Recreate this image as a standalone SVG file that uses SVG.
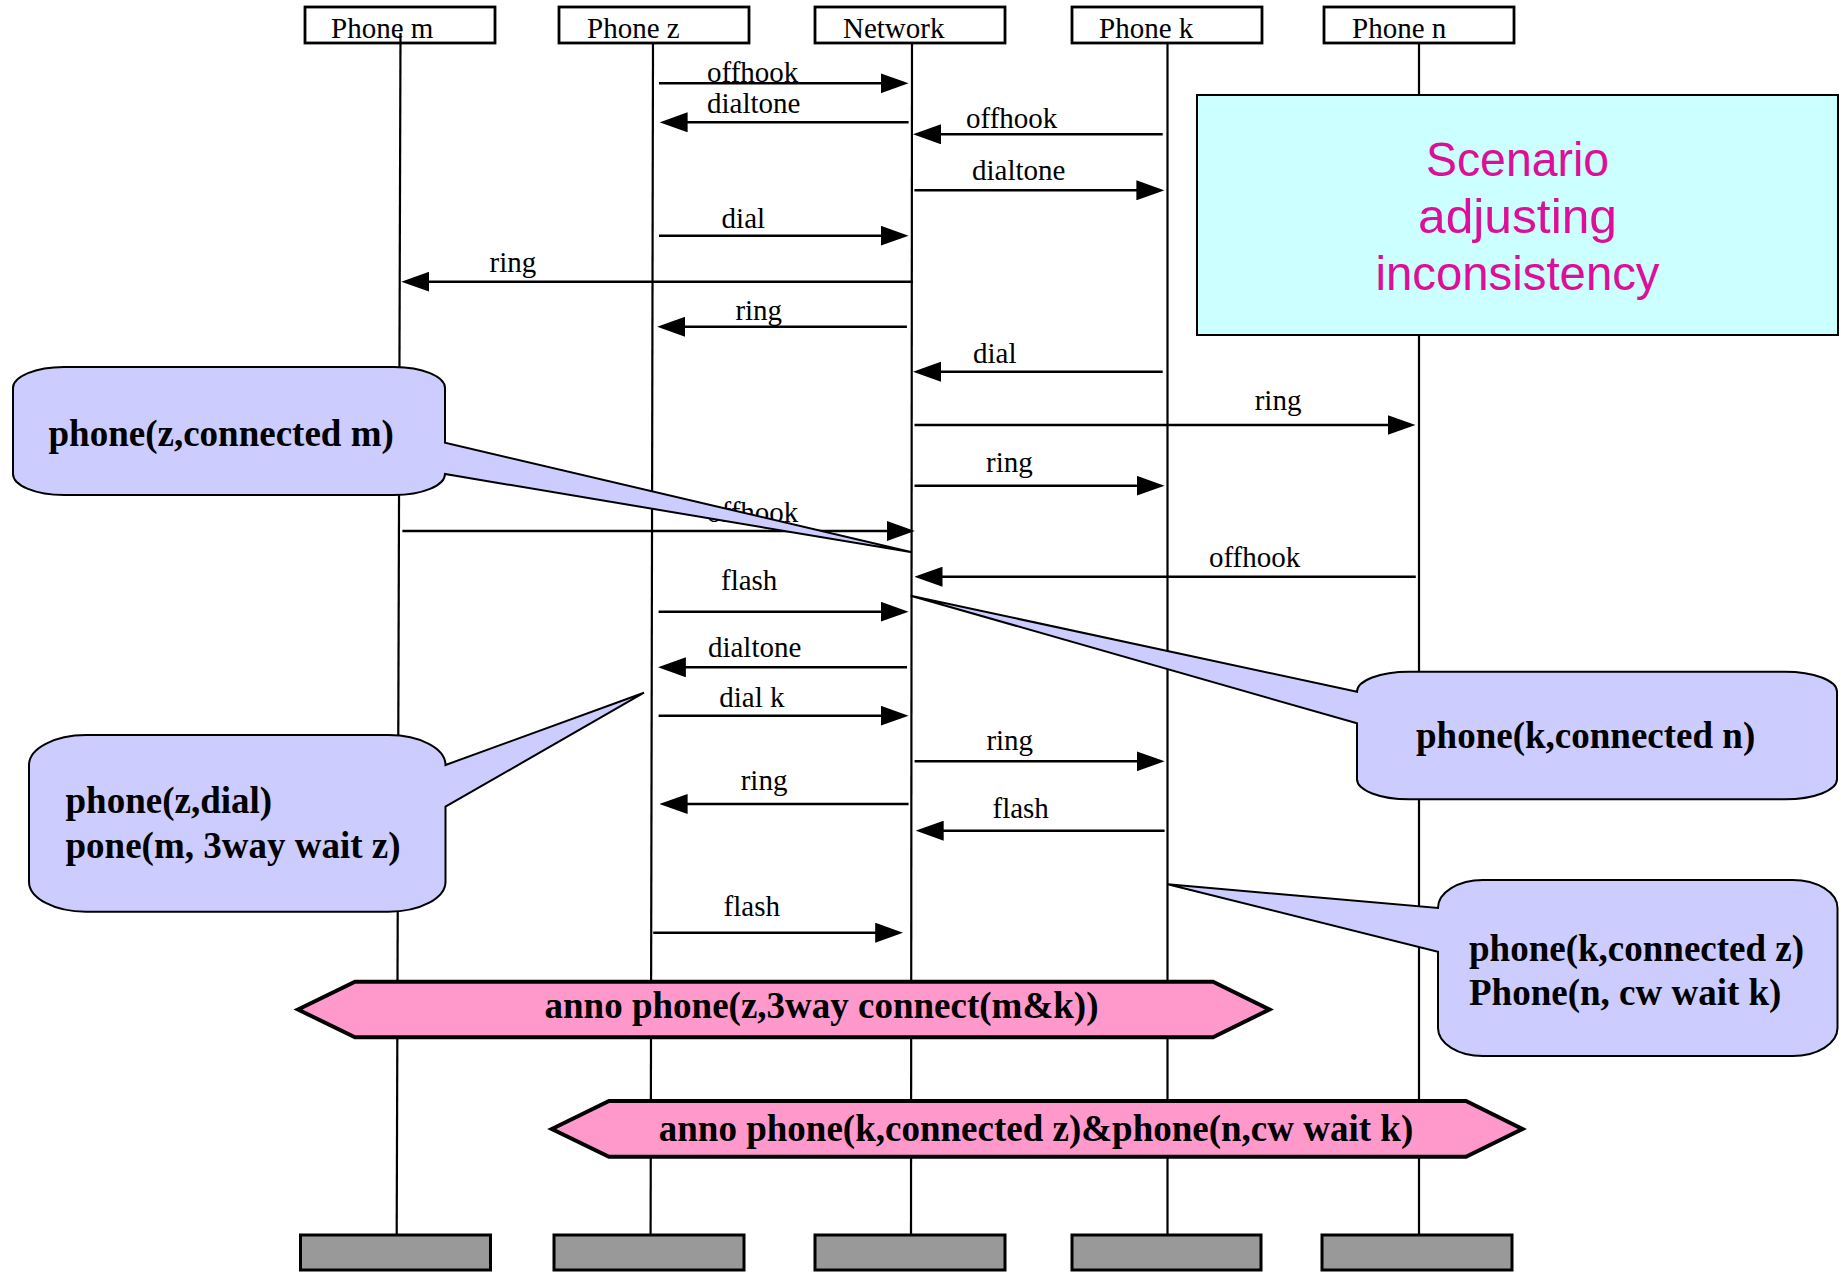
<svg xmlns="http://www.w3.org/2000/svg" width="1841" height="1272" viewBox="0 0 1841 1272">
  <style>
    .head { fill: #ffffff; stroke: #000000; stroke-width: 2.8; }
    .foot { fill: #999999; stroke: #000000; stroke-width: 3; }
    .life { stroke: #000000; stroke-width: 2.2; fill: none; }
    .msg { stroke: #000000; stroke-width: 2.6; fill: none; marker-end: url(#arrow); }
    .lbl { font-family: "Liberation Serif", "Times New Roman", serif; font-size: 29px; fill: #000000; }
    .note { fill: #CCCCFF; stroke: #000000; stroke-width: 2; }
    .noteText { font-family: "Liberation Serif", "Times New Roman", serif; font-size: 37px; font-weight: bold; fill: #000000; }
    .anno { fill: #FF99CC; stroke: #000000; stroke-width: 4; stroke-linejoin: miter; }
    .annoText { font-family: "Liberation Serif", "Times New Roman", serif; font-size: 37px; font-weight: bold; fill: #000000; text-anchor: middle; }
    .scen { fill: #CCFFFF; stroke: #000000; stroke-width: 2; }
    .scenText { font-family: "Liberation Sans", Arial, sans-serif; font-size: 48px; fill: #DD0E99; text-anchor: middle; }
  </style>
  <defs>
    <marker id="arrow" viewBox="0 0 28 20" refX="18" refY="10" markerWidth="28" markerHeight="20" markerUnits="userSpaceOnUse" orient="auto">
      <path d="M0,0 L28,10 L0,20 Z" fill="#000000"/>
    </marker>
  </defs>

  <rect width="1841" height="1272" fill="#ffffff"/>

  <!-- participant heads -->
  <g id="phone-m-head"><rect class="head" x="305" y="7" width="190" height="36"/><text class="lbl" x="331" y="38">Phone m</text></g>
  <g id="phone-z-head"><rect class="head" x="559" y="7" width="190" height="36"/><text class="lbl" x="587" y="38">Phone z</text></g>
  <g id="network-head"><rect class="head" x="815" y="7" width="190" height="36"/><text class="lbl" x="843" y="38">Network</text></g>
  <g id="phone-k-head"><rect class="head" x="1072" y="7" width="190" height="36"/><text class="lbl" x="1099" y="38">Phone k</text></g>
  <g id="phone-n-head"><rect class="head" x="1324" y="7" width="190" height="36"/><text class="lbl" x="1352" y="38">Phone n</text></g>

  <!-- lifelines -->
  <g id="lifelines">
    <line class="life" x1="400.5" y1="33" x2="396.7" y2="1235"/>
    <line class="life" x1="653" y1="43" x2="650.6" y2="1235"/>
    <line class="life" x1="912" y1="43" x2="911" y2="1235"/>
    <line class="life" x1="1167.5" y1="43" x2="1167.5" y2="1235"/>
    <line class="life" x1="1419" y1="43" x2="1419" y2="1235"/>
  </g>

  <!-- messages -->
  <g id="connectors">
    <path class="msg" d="M659,83.3 H898.6"/>
    <text class="lbl" x="707" y="81.7">offhook</text>
    <path class="msg" d="M908.6,122.3 H669.6"/>
    <text class="lbl" x="707" y="113.3">dialtone</text>
    <path class="msg" d="M1162.7,134.3 H923"/>
    <text class="lbl" x="966" y="128.3">offhook</text>
    <path class="msg" d="M914.4,190.3 H1154.4"/>
    <text class="lbl" x="972" y="180">dialtone</text>
    <path class="msg" d="M659,235.7 H898.6"/>
    <text class="lbl" x="721.6" y="227.7">dial</text>
    <path class="msg" d="M913,281.7 H411.3"/>
    <text class="lbl" x="489.5" y="271.7">ring</text>
    <path class="msg" d="M906.9,326.7 H667.2"/>
    <text class="lbl" x="735.4" y="320">ring</text>
    <path class="msg" d="M1162.7,371.7 H923"/>
    <text class="lbl" x="973" y="363.3">dial</text>
    <path class="msg" d="M914.5,425 H1405.5"/>
    <text class="lbl" x="1254.7" y="410">ring</text>
    <path class="msg" d="M914.5,485.7 H1154.5"/>
    <text class="lbl" x="986" y="471.7">ring</text>
    <path class="msg" d="M402.4,531 H904.8"/>
    <text class="lbl" x="707" y="521.7">offhook</text>
    <path class="msg" d="M1415.8,576.7 H924.5"/>
    <text class="lbl" x="1208.9" y="566.7">offhook</text>
    <path class="msg" d="M658.6,611.7 H898.6"/>
    <text class="lbl" x="721" y="590">flash</text>
    <path class="msg" d="M907,667.3 H667.9"/>
    <text class="lbl" x="707.9" y="657.3">dialtone</text>
    <path class="msg" d="M658.6,715.7 H898.6"/>
    <text class="lbl" x="719.3" y="706.7">dial k</text>
    <path class="msg" d="M914.6,761.3 H1154.6"/>
    <text class="lbl" x="986.4" y="750">ring</text>
    <path class="msg" d="M908.6,804 H669.6"/>
    <text class="lbl" x="740.7" y="790">ring</text>
    <path class="msg" d="M1164.6,830.7 H925.7"/>
    <text class="lbl" x="992.5" y="818.3">flash</text>
    <path class="msg" d="M653.2,932.7 H893.2"/>
    <text class="lbl" x="723.6" y="916">flash</text>
  </g>

  <!-- scenario box -->
  <g id="scenario">
    <rect class="scen" x="1197" y="95" width="641" height="240"/>
    <text class="scenText" x="1517.5" y="176" textLength="183" lengthAdjust="spacingAndGlyphs">Scenario</text>
    <text class="scenText" x="1517.5" y="233" textLength="199" lengthAdjust="spacingAndGlyphs">adjusting</text>
    <text class="scenText" x="1517.5" y="290" textLength="284" lengthAdjust="spacingAndGlyphs">inconsistency</text>
  </g>

  <!-- state callouts -->
  <g id="note-z-connected-m">
    <path class="note" d="M64,367 H394 A51,21 0 0 1 445,388 V442.7 L912,552.3 L445,474 A51,21 0 0 1 394,495 H64 A51,21 0 0 1 13,474 V388 A51,21 0 0 1 64,367 Z"/>
    <text class="noteText" x="48.5" y="446">phone(z,connected m)</text>
  </g>
  <g id="note-z-dial">
    <path class="note" d="M86,735 H388.5 A57,30 0 0 1 445.5,765 L644,692.7 L445.5,806.7 V881.7 A57,30 0 0 1 388.5,911.7 H86 A57,30 0 0 1 29,881.7 V765 A57,30 0 0 1 86,735 Z"/>
    <text class="noteText" x="65.5" y="813">phone(z,dial)</text>
    <text class="noteText" x="65.5" y="858">pone(m, 3way wait z)</text>
  </g>
  <g id="note-k-connected-n">
    <path class="note" d="M1409,671.7 H1785 A52,20 0 0 1 1837,691.7 V779.3 A52,20 0 0 1 1785,799.3 H1409 A52,20 0 0 1 1357,779.3 V723.3 L910.6,595.7 L1357,691.7 A52,20 0 0 1 1409,671.7 Z"/>
    <text class="noteText" x="1416" y="748">phone(k,connected n)</text>
  </g>
  <g id="note-k-connected-z">
    <path class="note" d="M1483,880 H1792.5 A45,28 0 0 1 1837.5,908 V1028 A45,28 0 0 1 1792.5,1056 H1483 A45,28 0 0 1 1438,1028 V951.7 L1167.6,884.3 L1438,908 A45,28 0 0 1 1483,880 Z"/>
    <text class="noteText" x="1469" y="961">phone(k,connected z)</text>
    <text class="noteText" x="1469" y="1005">Phone(n, cw wait k)</text>
  </g>

  <!-- annotations -->
  <g id="anno-3way">
    <polygon class="anno" points="298,1009.5 355,981.7 1213,981.7 1269.4,1009.5 1213,1037.3 355,1037.3"/>
    <text class="annoText" x="821.5" y="1018">anno phone(z,3way connect(m&amp;k))</text>
  </g>
  <g id="anno-cw-wait">
    <polygon class="anno" points="551.8,1129 609,1101 1466,1101 1522.4,1129 1466,1156.7 609,1156.7"/>
    <text class="annoText" x="1036" y="1141">anno phone(k,connected z)&amp;phone(n,cw wait k)</text>
  </g>

  <!-- lifeline ends -->
  <g id="phone-m-end"><rect class="foot" x="300.5" y="1235" width="190" height="35"/></g>
  <g id="phone-z-end"><rect class="foot" x="554" y="1235" width="190" height="35"/></g>
  <g id="network-end"><rect class="foot" x="815" y="1235" width="190" height="35"/></g>
  <g id="phone-k-end"><rect class="foot" x="1072" y="1235" width="189" height="35"/></g>
  <g id="phone-n-end"><rect class="foot" x="1322" y="1235" width="190" height="35"/></g>
</svg>
